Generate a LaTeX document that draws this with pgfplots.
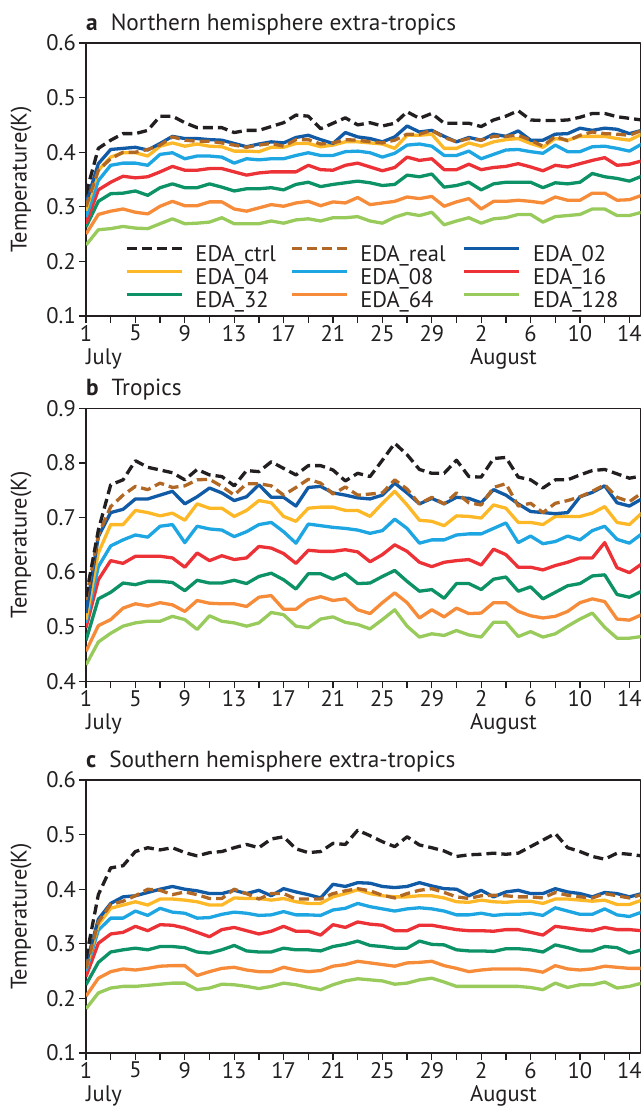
\documentclass[border=0pt]{standalone}
\usepackage{fontspec}
\setmainfont{PT Sans}
\usepackage{pgfplots}
\pgfplotsset{compat=1.18}
\usepackage{pgfplotstable}

\definecolor{axgray}{RGB}{35,31,32}
\definecolor{cctrl}{RGB}{35,31,32}
\definecolor{creal}{RGB}{176,104,36}
\definecolor{c02}{RGB}{16,90,166}
\definecolor{c04}{RGB}{253,184,40}
\definecolor{c08}{RGB}{29,166,226}
\definecolor{c16}{RGB}{237,50,55}
\definecolor{c32}{RGB}{12,146,102}
\definecolor{c64}{RGB}{246,140,58}
\definecolor{c128}{RGB}{152,203,92}

\newcommand{\tickfont}{\fontsize{22.5}{25}\selectfont}
\newcommand{\titlefont}{\fontsize{23.3}{26}\selectfont}

\tikzset{
  sctrl/.style={color=cctrl, line width=3.3pt, dash pattern=on 10pt off 5pt},
  sreal/.style={color=creal, line width=3.3pt, dash pattern=on 10pt off 5pt},
  s02/.style={color=c02, line width=3.3pt},
  s04/.style={color=c04, line width=3.3pt},
  s08/.style={color=c08, line width=3.3pt},
  s16/.style={color=c16, line width=3.3pt},
  s32/.style={color=c32, line width=3.3pt},
  s64/.style={color=c64, line width=3.3pt},
  s128/.style={color=c128, line width=3.3pt},
}

\pgfplotstableread{
d ctrl real e02 e04 e08 e16 e32 e64 e128
1 0.324 0.300 0.306 0.293 0.281 0.269 0.263 0.250 0.230
2 0.407 0.367 0.379 0.367 0.348 0.331 0.310 0.286 0.258
3 0.422 0.388 0.405 0.391 0.376 0.345 0.324 0.292 0.260
4 0.434 0.400 0.407 0.399 0.380 0.356 0.325 0.296 0.264
5 0.434 0.400 0.409 0.399 0.380 0.353 0.329 0.290 0.261
6 0.440 0.405 0.404 0.393 0.376 0.355 0.321 0.287 0.260
7 0.466 0.413 0.416 0.411 0.396 0.364 0.335 0.301 0.269
8 0.466 0.428 0.429 0.417 0.399 0.374 0.342 0.310 0.278
9 0.454 0.422 0.425 0.411 0.388 0.367 0.335 0.302 0.269
10 0.445 0.420 0.425 0.415 0.393 0.367 0.335 0.302 0.270
11 0.445 0.420 0.423 0.411 0.393 0.370 0.342 0.309 0.272
12 0.445 0.417 0.422 0.410 0.391 0.370 0.336 0.309 0.280
13 0.436 0.413 0.416 0.402 0.380 0.364 0.329 0.296 0.269
14 0.440 0.409 0.410 0.402 0.388 0.358 0.333 0.292 0.269
15 0.440 0.413 0.415 0.401 0.386 0.362 0.333 0.298 0.269
16 0.447 0.416 0.419 0.409 0.388 0.364 0.335 0.304 0.274
17 0.454 0.411 0.417 0.409 0.388 0.364 0.331 0.301 0.270
18 0.468 0.423 0.427 0.416 0.394 0.364 0.341 0.307 0.276
19 0.466 0.423 0.431 0.416 0.399 0.376 0.345 0.310 0.278
20 0.443 0.415 0.423 0.410 0.394 0.368 0.337 0.302 0.274
21 0.453 0.417 0.416 0.413 0.394 0.367 0.341 0.309 0.280
22 0.463 0.423 0.436 0.419 0.401 0.376 0.344 0.307 0.280
23 0.450 0.422 0.428 0.419 0.402 0.380 0.347 0.317 0.282
24 0.454 0.419 0.425 0.417 0.399 0.373 0.344 0.304 0.274
25 0.448 0.417 0.419 0.415 0.391 0.366 0.339 0.307 0.270
26 0.453 0.422 0.428 0.407 0.398 0.372 0.341 0.310 0.281
27 0.474 0.433 0.448 0.431 0.413 0.391 0.358 0.318 0.288
28 0.462 0.433 0.437 0.431 0.415 0.385 0.355 0.315 0.284
29 0.471 0.440 0.440 0.433 0.411 0.388 0.360 0.319 0.290
30 0.453 0.427 0.429 0.407 0.394 0.368 0.336 0.301 0.267
31 0.453 0.419 0.419 0.407 0.394 0.368 0.339 0.309 0.274
32 0.453 0.425 0.427 0.417 0.402 0.378 0.345 0.315 0.280
33 0.447 0.422 0.422 0.411 0.388 0.368 0.331 0.296 0.270
34 0.459 0.429 0.433 0.419 0.396 0.372 0.342 0.310 0.278
35 0.466 0.429 0.429 0.423 0.404 0.374 0.345 0.310 0.280
36 0.476 0.431 0.439 0.425 0.405 0.379 0.345 0.312 0.286
37 0.459 0.422 0.422 0.416 0.401 0.373 0.345 0.310 0.286
38 0.458 0.411 0.422 0.409 0.398 0.366 0.335 0.307 0.272
39 0.458 0.429 0.433 0.425 0.413 0.376 0.344 0.318 0.282
40 0.459 0.421 0.434 0.422 0.401 0.373 0.342 0.312 0.284
41 0.464 0.431 0.444 0.429 0.401 0.379 0.345 0.312 0.286
42 0.471 0.437 0.440 0.429 0.410 0.385 0.361 0.325 0.296
43 0.471 0.434 0.444 0.429 0.411 0.390 0.355 0.325 0.296
44 0.465 0.433 0.442 0.425 0.407 0.376 0.352 0.312 0.284
45 0.462 0.431 0.434 0.422 0.402 0.378 0.347 0.313 0.284
46 0.459 0.440 0.440 0.433 0.415 0.384 0.356 0.321 0.290
}\tabA

\pgfplotstableread{
d ctrl real e02 e04 e08 e16 e32 e64 e128
1 0.555 0.549 0.525 0.513 0.507 0.498 0.475 0.455 0.430
2 0.677 0.668 0.665 0.635 0.610 0.586 0.551 0.502 0.472
3 0.760 0.720 0.709 0.687 0.648 0.621 0.563 0.513 0.488
4 0.769 0.741 0.715 0.687 0.659 0.616 0.580 0.534 0.501
5 0.804 0.757 0.734 0.713 0.668 0.629 0.577 0.542 0.507
6 0.792 0.751 0.734 0.709 0.664 0.629 0.583 0.538 0.510
7 0.787 0.763 0.741 0.703 0.684 0.629 0.583 0.544 0.510
8 0.782 0.755 0.748 0.708 0.687 0.626 0.581 0.540 0.519
9 0.769 0.758 0.725 0.695 0.654 0.609 0.566 0.528 0.513
10 0.788 0.769 0.738 0.725 0.684 0.635 0.585 0.548 0.495
11 0.778 0.770 0.754 0.717 0.679 0.621 0.580 0.543 0.520
12 0.775 0.757 0.745 0.717 0.677 0.630 0.580 0.542 0.510
13 0.758 0.741 0.731 0.702 0.665 0.623 0.585 0.542 0.507
14 0.786 0.762 0.738 0.713 0.674 0.626 0.579 0.537 0.501
15 0.784 0.762 0.760 0.731 0.687 0.647 0.592 0.554 0.507
16 0.802 0.758 0.737 0.727 0.691 0.644 0.598 0.557 0.526
17 0.790 0.741 0.737 0.702 0.674 0.634 0.586 0.532 0.522
18 0.778 0.755 0.721 0.693 0.653 0.616 0.569 0.532 0.501
19 0.795 0.770 0.755 0.717 0.688 0.640 0.597 0.549 0.498
20 0.795 0.763 0.757 0.719 0.685 0.638 0.597 0.555 0.514
21 0.787 0.743 0.745 0.719 0.682 0.638 0.587 0.548 0.518
22 0.767 0.756 0.741 0.713 0.680 0.641 0.597 0.551 0.508
23 0.781 0.741 0.736 0.713 0.677 0.637 0.579 0.531 0.504
24 0.775 0.743 0.734 0.702 0.671 0.619 0.580 0.524 0.496
25 0.805 0.745 0.741 0.726 0.676 0.632 0.592 0.544 0.513
26 0.836 0.769 0.763 0.748 0.697 0.650 0.603 0.562 0.531
27 0.815 0.752 0.745 0.723 0.680 0.638 0.583 0.544 0.501
28 0.788 0.725 0.725 0.695 0.653 0.618 0.565 0.516 0.481
29 0.781 0.737 0.735 0.693 0.659 0.610 0.568 0.531 0.487
30 0.781 0.725 0.725 0.685 0.659 0.618 0.552 0.518 0.484
31 0.805 0.745 0.737 0.703 0.668 0.621 0.579 0.534 0.493
32 0.775 0.727 0.735 0.702 0.670 0.623 0.579 0.524 0.485
33 0.774 0.723 0.727 0.699 0.670 0.613 0.568 0.525 0.481
34 0.808 0.755 0.751 0.723 0.680 0.642 0.587 0.544 0.508
35 0.810 0.762 0.741 0.717 0.690 0.632 0.591 0.544 0.508
36 0.774 0.721 0.725 0.691 0.654 0.609 0.565 0.528 0.482
37 0.769 0.726 0.711 0.691 0.666 0.609 0.573 0.520 0.491
38 0.754 0.709 0.709 0.687 0.652 0.604 0.551 0.516 0.481
39 0.769 0.726 0.707 0.702 0.656 0.612 0.563 0.519 0.487
40 0.769 0.731 0.709 0.702 0.666 0.618 0.575 0.528 0.501
41 0.778 0.738 0.738 0.702 0.659 0.626 0.579 0.544 0.514
42 0.786 0.748 0.746 0.708 0.676 0.626 0.593 0.551 0.525
43 0.788 0.760 0.758 0.720 0.684 0.654 0.595 0.546 0.499
44 0.780 0.737 0.727 0.691 0.660 0.608 0.559 0.514 0.479
45 0.772 0.729 0.721 0.687 0.653 0.599 0.554 0.512 0.479
46 0.776 0.745 0.734 0.708 0.670 0.615 0.565 0.522 0.482
}\tabB

\pgfplotstableread{
d ctrl real e02 e04 e08 e16 e32 e64 e128
1 0.273 0.255 0.262 0.255 0.250 0.240 0.225 0.204 0.181
2 0.390 0.340 0.345 0.335 0.325 0.301 0.266 0.237 0.210
3 0.439 0.372 0.374 0.365 0.347 0.318 0.285 0.249 0.219
4 0.443 0.378 0.386 0.371 0.347 0.321 0.289 0.254 0.222
5 0.469 0.388 0.388 0.377 0.360 0.332 0.292 0.252 0.222
6 0.476 0.400 0.394 0.371 0.352 0.324 0.289 0.255 0.224
7 0.472 0.398 0.400 0.382 0.365 0.335 0.295 0.259 0.226
8 0.476 0.390 0.405 0.382 0.358 0.334 0.295 0.260 0.228
9 0.467 0.395 0.400 0.380 0.356 0.329 0.293 0.260 0.228
10 0.461 0.390 0.397 0.377 0.347 0.321 0.285 0.242 0.216
11 0.467 0.383 0.392 0.371 0.348 0.313 0.283 0.249 0.219
12 0.469 0.383 0.392 0.371 0.354 0.326 0.289 0.255 0.226
13 0.476 0.400 0.398 0.384 0.358 0.330 0.297 0.257 0.225
14 0.482 0.392 0.392 0.383 0.356 0.324 0.287 0.252 0.222
15 0.476 0.382 0.398 0.383 0.352 0.318 0.285 0.249 0.218
16 0.492 0.392 0.388 0.380 0.353 0.323 0.285 0.249 0.222
17 0.496 0.392 0.401 0.383 0.359 0.332 0.292 0.257 0.228
18 0.474 0.382 0.395 0.377 0.353 0.323 0.289 0.252 0.225
19 0.467 0.382 0.390 0.374 0.353 0.323 0.289 0.249 0.220
20 0.469 0.382 0.384 0.374 0.352 0.316 0.287 0.251 0.216
21 0.484 0.392 0.409 0.386 0.362 0.335 0.295 0.259 0.225
22 0.482 0.397 0.405 0.392 0.365 0.330 0.299 0.262 0.232
23 0.508 0.401 0.412 0.399 0.374 0.340 0.305 0.268 0.236
24 0.498 0.397 0.411 0.392 0.368 0.336 0.297 0.265 0.234
25 0.487 0.389 0.405 0.388 0.364 0.334 0.295 0.262 0.232
26 0.478 0.384 0.403 0.386 0.360 0.324 0.292 0.259 0.226
27 0.496 0.392 0.405 0.386 0.364 0.324 0.292 0.265 0.228
28 0.481 0.398 0.412 0.388 0.366 0.334 0.305 0.266 0.234
29 0.476 0.401 0.406 0.388 0.364 0.334 0.299 0.268 0.237
30 0.470 0.394 0.401 0.384 0.360 0.330 0.298 0.260 0.230
31 0.460 0.386 0.400 0.377 0.353 0.326 0.289 0.255 0.222
32 0.463 0.383 0.388 0.376 0.353 0.324 0.287 0.249 0.222
33 0.464 0.388 0.398 0.380 0.356 0.324 0.287 0.252 0.222
34 0.466 0.389 0.386 0.377 0.352 0.323 0.286 0.254 0.222
35 0.464 0.388 0.395 0.376 0.354 0.326 0.291 0.254 0.222
36 0.466 0.386 0.398 0.378 0.354 0.326 0.291 0.254 0.222
37 0.478 0.386 0.392 0.378 0.356 0.321 0.289 0.252 0.220
38 0.490 0.384 0.392 0.374 0.352 0.316 0.285 0.248 0.216
39 0.502 0.394 0.401 0.382 0.366 0.332 0.298 0.260 0.228
40 0.476 0.389 0.395 0.382 0.360 0.329 0.293 0.254 0.220
41 0.469 0.386 0.392 0.380 0.354 0.326 0.287 0.252 0.225
42 0.460 0.384 0.386 0.378 0.354 0.324 0.287 0.254 0.225
43 0.455 0.392 0.394 0.380 0.364 0.330 0.295 0.259 0.230
44 0.466 0.388 0.392 0.372 0.353 0.326 0.293 0.257 0.219
45 0.464 0.384 0.386 0.372 0.350 0.326 0.283 0.255 0.222
46 0.461 0.390 0.392 0.380 0.358 0.324 0.289 0.255 0.228
}\tabC

\newcommand{\plotall}[1]{%
  \addplot[s128, forget plot] table[x=d, y=e128] {#1};
  \addplot[s64, forget plot] table[x=d, y=e64] {#1};
  \addplot[s32, forget plot] table[x=d, y=e32] {#1};
  \addplot[s16, forget plot] table[x=d, y=e16] {#1};
  \addplot[s08, forget plot] table[x=d, y=e08] {#1};
  \addplot[s04, forget plot] table[x=d, y=e04] {#1};
  \addplot[s02, forget plot] table[x=d, y=e02] {#1};
  \addplot[sreal, forget plot] table[x=d, y=real] {#1};
  \addplot[sctrl, forget plot] table[x=d, y=ctrl] {#1};
}

\newcommand{\panelnotes}[2]{%
  \node[anchor=base west, inner sep=0pt, font=\titlefont, text=axgray, yshift=13pt] at (rel axis cs:0,1) {\textbf{#1}\hspace{13pt}#2};
  \node[anchor=base west, inner sep=0pt, font=\tickfont, text=axgray, yshift=-48pt] at (rel axis cs:0,0) {July};
  \node[anchor=base, inner sep=0pt, font=\tickfont, text=axgray, yshift=-48pt] at (rel axis cs:0.7528,0) {August};
}

\pgfplotsset{
  myaxis/.style={
    scale only axis, width=554.5pt, height=273pt,
    xmin=1, xmax=45.9,
    xtick={1,5,...,45},
    xticklabels={1,5,9,13,17,21,25,29,2,6,10,14},
    minor xtick={3,7,...,43},
    tick pos=left, tick align=outside,
    major tick length=7pt, minor tick length=7pt,
    every tick/.style={line width=1.3pt, color=axgray},
    axis line style={line width=1.3pt, color=axgray},
    tick label style={font=\tickfont, color=axgray},
    xticklabel style={inner sep=2pt},
    yticklabel style={inner sep=3pt},
    /pgf/number format/assume math mode=true,
    yticklabel style={/pgf/number format/fixed, /pgf/number format/fixed zerofill, /pgf/number format/precision=1},
    ylabel={Temperature(K)},
    ylabel style={at={(axis description cs:-0.117,0.5)}, anchor=center, font=\tickfont, color=axgray},
    clip mode=individual,
    line join=round,
  }
}

\begin{document}
\begin{tikzpicture}
% ---------- panel a ----------
\begin{axis}[myaxis, at={(86pt,-43pt)}, anchor=north west,
  ymin=0.1, ymax=0.6, ytick={0.1,0.2,0.3,0.4,0.5,0.6},
  legend columns=3, legend cell align=left,
  legend style={at={(rel axis cs:0.0703,0.262)}, anchor=north west,
    draw=none, fill=none, inner sep=0pt, font=\tickfont, text=axgray,
    nodes={inner sep=1.5pt, text height=15pt, text depth=5pt},
    /tikz/every odd column/.append style={column sep=10.5pt},
    /tikz/every even column/.append style={column sep=0pt}},
  legend image code/.code={\draw[#1] (0pt,7.5pt) -- (55pt,7.5pt);},
]
\addlegendimage{sctrl}\addlegendentry{\makebox[93pt][l]{EDA\_ctrl}}
\addlegendimage{sreal}\addlegendentry{\makebox[101pt][l]{EDA\_real}}
\addlegendimage{s02}\addlegendentry{\makebox[80pt][l]{EDA\_02}}
\addlegendimage{s04}\addlegendentry{\makebox[93pt][l]{EDA\_04}}
\addlegendimage{s08}\addlegendentry{\makebox[101pt][l]{EDA\_08}}
\addlegendimage{s16}\addlegendentry{\makebox[80pt][l]{EDA\_16}}
\addlegendimage{s32}\addlegendentry{\makebox[93pt][l]{EDA\_32}}
\addlegendimage{s64}\addlegendentry{\makebox[101pt][l]{EDA\_64}}
\addlegendimage{s128}\addlegendentry{\makebox[80pt][l]{EDA\_128}}
\plotall{\tabA}
\panelnotes{a}{Northern hemisphere extra-tropics}
\end{axis}
% ---------- panel b ----------
\begin{axis}[myaxis, at={(86pt,-408.3pt)}, anchor=north west,
  ymin=0.4, ymax=0.9, ytick={0.4,0.5,0.6,0.7,0.8,0.9}]
\plotall{\tabB}
\panelnotes{b}{Tropics}
\end{axis}
% ---------- panel c ----------
\begin{axis}[myaxis, at={(86pt,-780pt)}, anchor=north west,
  ymin=0.1, ymax=0.6, ytick={0.1,0.2,0.3,0.4,0.5,0.6}]
\plotall{\tabC}
\panelnotes{c}{Southern hemisphere extra-tropics}
\end{axis}
\pgfresetboundingbox
\path[use as bounding box] (0pt,0pt) rectangle (642pt,-1106pt);
\end{tikzpicture}
\end{document}
